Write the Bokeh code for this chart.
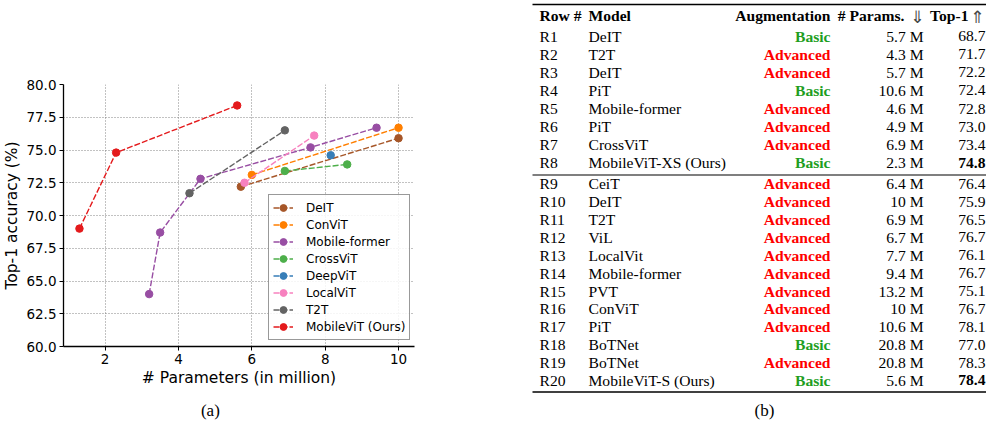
import numpy as np
from bokeh.plotting import figure
from bokeh.models import Range1d, FixedTicker, PrintfTickFormatter
from bokeh.layouts import row
from bokeh.embed import file_html
from bokeh.resources import INLINE
from bokeh.core.properties import value

# ---------------- (a) chart data ----------------
series_names = ["DeIT", "ConViT", "Mobile-former", "CrossViT", "DeepViT",
                "LocalViT", "T2T", "MobileViT (Ours)"]
series_colors = ["#a65628", "#ff7f00", "#984ea3", "#4daf4a", "#377eb8",
                 "#f781bf", "#636363", "#e41a1c"]
deit_x = [5.7, 10.0]
deit_y = [72.2, 75.9]
convit_x = [6.0, 10.0]
convit_y = [73.1, 76.7]
mobileformer_x = [3.2, 3.5, 4.6, 7.6, 9.4]
mobileformer_y = [64.0, 68.7, 72.8, 75.2, 76.7]
crossvit_x = [6.9, 8.6]
crossvit_y = [73.4, 73.9]
deepvit_x = [8.15]
deepvit_y = [74.6]
localvit_x = [5.8, 7.7]
localvit_y = [72.5, 76.1]
t2t_x = [4.3, 6.9]
t2t_y = [71.7, 76.5]
mobilevit_x = [1.3, 2.3, 5.6]
mobilevit_y = [69.0, 74.8, 78.4]
x_ticks = [2, 4, 6, 8, 10]
y_ticks = [60.0, 62.5, 65.0, 67.5, 70.0, 72.5, 75.0, 77.5, 80.0]

series_x = [deit_x, convit_x, mobileformer_x, crossvit_x, deepvit_x,
            localvit_x, t2t_x, mobilevit_x]
series_y = [deit_y, convit_y, mobileformer_y, crossvit_y, deepvit_y,
            localvit_y, t2t_y, mobilevit_y]

# ---------------- (b) table data ----------------
row_ids = ["R%d" % i for i in range(1, 21)]
models = ["DeIT", "T2T", "DeIT", "PiT", "Mobile-former", "PiT", "CrossViT",
          "MobileViT-XS (Ours)", "CeiT", "DeIT", "T2T", "ViL", "LocalVit",
          "Mobile-former", "PVT", "ConViT", "PiT", "BoTNet", "BoTNet",
          "MobileViT-S (Ours)"]
augmentation = ["Basic", "Advanced", "Advanced", "Basic", "Advanced", "Advanced",
                "Advanced", "Basic", "Advanced", "Advanced", "Advanced", "Advanced",
                "Advanced", "Advanced", "Advanced", "Advanced", "Advanced", "Basic",
                "Advanced", "Basic"]
params_m = [5.7, 4.3, 5.7, 10.6, 4.6, 4.9, 6.9, 2.3, 6.4, 10, 6.9, 6.7, 7.7,
            9.4, 13.2, 10, 10.6, 20.8, 20.8, 5.6]
top1 = [68.7, 71.7, 72.2, 72.4, 72.8, 73.0, 73.4, 74.8, 76.4, 75.9, 76.5,
        76.7, 76.1, 76.7, 75.1, 76.7, 78.1, 77.0, 78.3, 78.4]
bold_rows = ["R8", "R20"]
headers = ["Row #", "Model", "Augmentation", "# Params.", "Top-1"]
header_arrows = ["\u21d3", "\u21d1"]

# common vertical structure (so frames line up in the row)
TOP, FH, BOT = 84, 262, 75

# ================= figure (a) =================
p1 = figure(frame_width=351, frame_height=FH,
            min_border_left=58, min_border_right=103,
            min_border_top=TOP, min_border_bottom=BOT,
            x_range=Range1d(0.865, 10.435), y_range=Range1d(60, 80),
            output_backend="svg", toolbar_location=None)
p1.outline_line_color = None
p1.background_fill_color = "white"
p1.border_fill_color = "white"

for ax in (p1.xaxis, p1.yaxis):
    ax.axis_line_color = "black"
    ax.axis_line_width = 1.3
    ax.major_tick_line_color = "black"
    ax.major_tick_out = 4
    ax.major_tick_in = 0
    ax.minor_tick_line_color = None
    ax.major_label_text_font = "DejaVu Sans"
    ax.major_label_text_font_size = "13.5px"
    ax.major_label_text_color = "black"
    ax.axis_label_text_font = "DejaVu Sans"
    ax.axis_label_text_font_size = "15.5px"
    ax.axis_label_text_font_style = "normal"
    ax.axis_label_text_color = "black"
    ax.major_label_standoff = 3
    ax.axis_label_standoff = 2

p1.xaxis.ticker = FixedTicker(ticks=x_ticks)
p1.xaxis.formatter = PrintfTickFormatter(format="%d")
p1.yaxis.ticker = FixedTicker(ticks=y_ticks)
p1.yaxis.formatter = PrintfTickFormatter(format="%.1f")
p1.xaxis.axis_label = "# Parameters (in million)"
p1.yaxis.axis_label = "Top-1 accuracy (%)"

p1.grid.grid_line_color = "#777777"
p1.grid.grid_line_dash = "1 2"
p1.grid.grid_line_width = 0.9

for name, col, xs, ys in zip(series_names, series_colors, series_x, series_y):
    p1.line(xs, ys, line_color=col, line_width=1.4, line_dash="6 2",
            legend_label=name)
    p1.scatter(xs, ys, size=7.5, fill_color=col, line_color=col,
               legend_label=name)

lg = p1.legend[0]
lg.location = (205, 6)
lg.label_text_font = "DejaVu Sans"
lg.label_text_font_size = "12px"
lg.label_text_color = "black"
lg.glyph_width = 20
lg.glyph_height = 17
lg.label_height = 17
lg.spacing = 0
lg.padding = 4
lg.margin = 0
lg.label_standoff = 13
lg.border_line_color = "#333333"
lg.border_line_width = 1
lg.background_fill_color = "white"
lg.background_fill_alpha = 0.85

# caption (a), drawn below the axis area (overlay level is not clipped)
p1.text(x=[4.87], y=[55.1], text=["(a)"], text_font=value("Liberation Serif"),
        text_font_size="17px", text_align="center", text_baseline="middle",
        text_color="black", level="overlay")

# ================= figure (b) : table =================
# page-pixel coordinates: frame spans page y 84..346, x 520..989
p2 = figure(frame_width=469, frame_height=FH,
            min_border_left=0, min_border_right=0,
            min_border_top=TOP, min_border_bottom=BOT,
            x_range=Range1d(520, 989), y_range=Range1d(TOP + FH, TOP),
            x_axis_type=None, y_axis_type=None,
            output_backend="svg", toolbar_location=None)
p2.outline_line_color = None
p2.grid.visible = False
p2.background_fill_color = "white"
p2.border_fill_color = "white"

serif = value("Liberation Serif")
fs = "15.6px"
col_row, col_model, col_aug, col_par, col_top = 542, 591, 833, 926, 988

header_y = 15
row_y = [35.7 + 18.09 * i for i in range(8)] + \
        [183.3 + 17.88 * j for j in range(12)]

common = dict(text_font=serif, text_font_size=fs, text_baseline="middle",
              level="overlay")

# header
p2.text(x=[col_row, col_model], y=[header_y] * 2, text=headers[:2],
        text_font_style="bold", text_align="left", text_color="black", **common)
p2.text(x=[col_aug, col_par - 19, col_top - 17], y=[header_y] * 3,
        text=headers[2:], text_font_style="bold", text_align="right",
        text_color="black", **common)
p2.text(x=[col_par - 6, col_top - 8], y=[header_y + 1] * 2, text=header_arrows,
        text_font=value("DejaVu Sans"), text_font_size="17px",
        text_align="center", text_baseline="middle", text_color="#444444",
        level="overlay")

# body
p2.text(x=[col_row] * 20, y=row_y, text=row_ids, text_align="left",
        text_color="black", **common)
p2.text(x=[col_model] * 20, y=row_y, text=models, text_align="left",
        text_color="black", **common)
aug_colors = ["#1f9e1f" if a == "Basic" else "#ff0000" for a in augmentation]
p2.text(x=[col_aug] * 20, y=row_y, text=augmentation, text_font_style="bold",
        text_align="right", text_color=aug_colors, **common)
p2.text(x=[col_par] * 20, y=row_y, text=["%g M" % v for v in params_m],
        text_align="right", text_color="black", **common)
norm_idx = [i for i, r in enumerate(row_ids) if r not in bold_rows]
bold_idx = [i for i, r in enumerate(row_ids) if r in bold_rows]
p2.text(x=[col_top] * len(norm_idx), y=[row_y[i] for i in norm_idx],
        text=["%.1f" % top1[i] for i in norm_idx], text_align="right",
        text_color="black", **common)
p2.text(x=[col_top] * len(bold_idx), y=[row_y[i] for i in bold_idx],
        text=["%.1f" % top1[i] for i in bold_idx], text_font_style="bold",
        text_align="right", text_color="black", **common)

# rules
rule_y = [4, 174.5, 391.5]
p2.segment(x0=[535] * 3, y0=rule_y, x1=[989] * 3, y1=rule_y,
           line_color="black", line_width=[1.4, 1.1, 1.4], level="overlay")

p2.text(x=[767], y=[410], text=["(b)"], text_font=serif,
        text_font_size="17px", text_align="center", text_baseline="middle",
        text_color="black", level="overlay")

layout = row(p1, p2)
open("out.html", "w").write(file_html(layout, INLINE))
